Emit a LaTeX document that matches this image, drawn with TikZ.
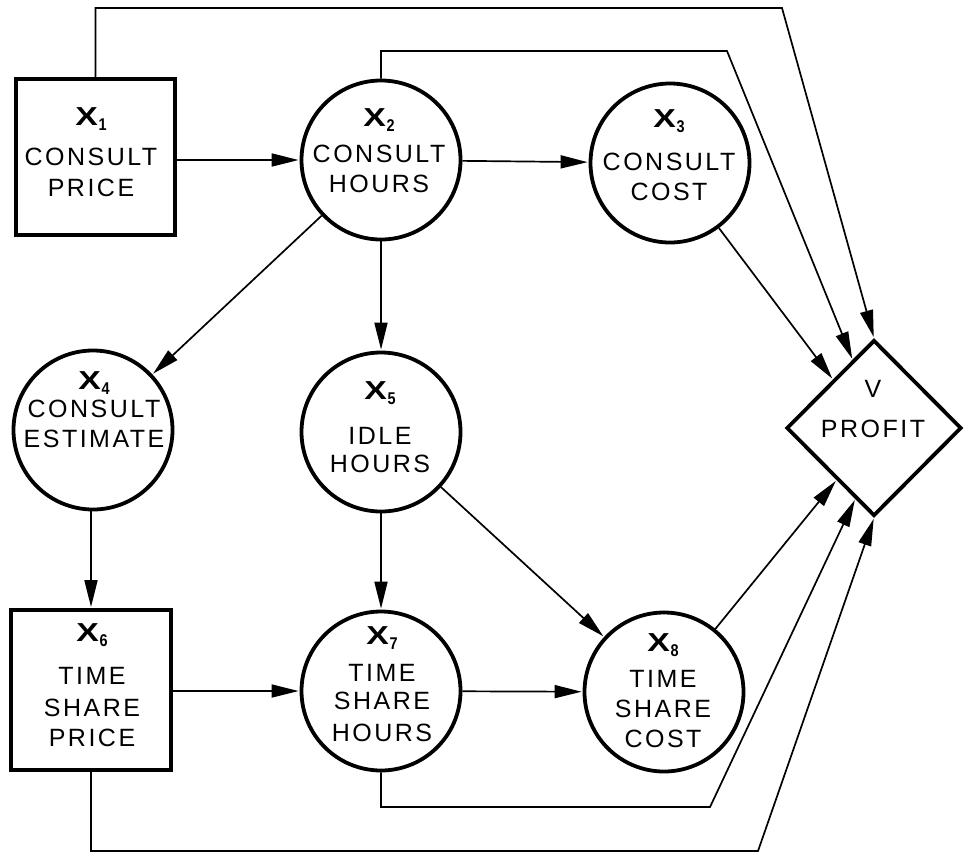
\documentclass[tikz,border=0pt]{standalone}
\usepackage{graphicx}
\usepackage{fontspec}
\setmainfont{Liberation Sans}
\newfontfamily\capsfont{Liberation Sans}[LetterSpace=10]
\newfontfamily\varfont{Liberation Sans Bold}
\usetikzlibrary{shapes.geometric,arrows.meta,calc}

% bold variable name X with a small subscript index
\newcommand\varname[1]{{\varfont\fontsize{26}{26}\selectfont\scalebox{1.3}[1]{X}\kern0.5pt\raisebox{-5pt}{\fontsize{17}{17}\selectfont\scalebox{0.85}[1]{#1}}}}

\begin{document}
\begin{tikzpicture}[x=1pt,y=-1pt,
  chance/.style={circle,draw,line width=3.8pt,minimum size=159pt,inner sep=0pt},
  decision/.style={rectangle,draw,line width=3.8pt,inner sep=0pt},
  value/.style={diamond,draw,line width=3.8pt,minimum width=175pt,minimum height=176pt,inner sep=0pt},
  txt/.style={font=\capsfont\fontsize{25}{30}\selectfont,anchor=base,inner sep=0pt},
  link/.style={line width=1.7pt,shorten >=1pt,-{Triangle[length=27pt,width=13pt]}}]
\useasboundingbox (0,0) rectangle (965,854);

% decision, chance and value nodes
\node[decision,minimum width=159pt,minimum height=156pt] (x1) at (95.5,157) {};
\node[chance] (x2) at (381,160) {};
\node[chance] (x3) at (670,163) {};
\node[chance] (x4) at (93,430) {};
\node[chance] (x5) at (381,432) {};
\node[decision,minimum width=160pt,minimum height=160pt] (x6) at (91,690) {};
\node[chance] (x7) at (381,691) {};
\node[chance] (x8) at (664,692) {};
\node[value] (v) at (874,428) {};

% labels
\node[txt] (l1a) at (91,125) {\varname{1}};
\node[txt] (l1b) at (91,165) {CONSULT};
\node[txt] (l1c) at (91,196) {PRICE};

\node[txt] (l2a) at (379,126) {\varname{2}};
\node[txt] (l2b) at (379,162) {CONSULT};
\node[txt] (l2c) at (379,192) {HOURS};

\node[txt] (l3a) at (669,127) {\varname{3}};
\node[txt] (l3b) at (669,170) {CONSULT};
\node[txt] (l3c) at (669,200) {COST};

\node[txt] (l4a) at (94,389) {\varname{4}};
\node[txt] (l4b) at (94,417) {CONSULT};
\node[txt] (l4c) at (94,447) {ESTIMATE};

\node[txt] (l5a) at (380,399) {\varname{5}};
\node[txt] (l5b) at (380,444) {IDLE};
\node[txt] (l5c) at (380,472) {HOURS};

\node[txt] (l6a) at (92,641) {\varname{6}};
\node[txt] (l6b) at (92,684) {TIME};
\node[txt] (l6c) at (92,716) {SHARE};
\node[txt] (l6d) at (92,746) {PRICE};

\node[txt] (l7a) at (382,644) {\varname{7}};
\node[txt] (l7b) at (382,681) {TIME};
\node[txt] (l7c) at (382,709) {SHARE};
\node[txt] (l7d) at (382,741) {HOURS};

\node[txt] (l8a) at (663,651) {\varname{8}};
\node[txt] (l8b) at (663,687) {TIME};
\node[txt] (l8c) at (663,717) {SHARE};
\node[txt] (l8d) at (663,747) {COST};

\node[txt] (lva) at (873,397) {V};
\node[txt] (lvb) at (873,437) {PROFIT};

% entry points on the value node and bends of the long routes
\coordinate (a2) at ($(v.west)!0.76!(v.north)$);
\coordinate (a3) at ($(v.west)!0.54!(v.north)$);
\coordinate (b8) at ($(v.west)!0.58!(v.south)$);
\coordinate (b7) at ($(v.west)!0.79!(v.south)$);
\coordinate (k1) at (782,8);
\coordinate (k2) at (727,51);
\coordinate (k7) at (710,807);
\coordinate (k6) at (758,851);

% influences
\draw[link] (x2.west -| x1.east) -- (x2.west);
\draw[link] (x2) -- (x3);
\draw[link] (x2) -- (x4);
\draw[link] (x2) -- (x5);
\draw[link] (x3) -- (a3);
\draw[link] (x4.south -| x6.north) -- (x6.north);
\draw[link] (x5) -- (x7);
\draw[link] (x5) -- (x8);
\draw[link] (x7.west -| x6.east) -- (x7.west);
\draw[link] (x7) -- (x8);
\draw[link] (x8) -- (b8);
\draw[link] (x1.north) |- (k1) -- (v.north);
\draw[link] (x2.north) |- (k2) -- (a2);
\draw[link] (x7.south) |- (k7) -- (b7);
\draw[link] (x6.south) |- (k6) -- (v.south);
\end{tikzpicture}
\end{document}
